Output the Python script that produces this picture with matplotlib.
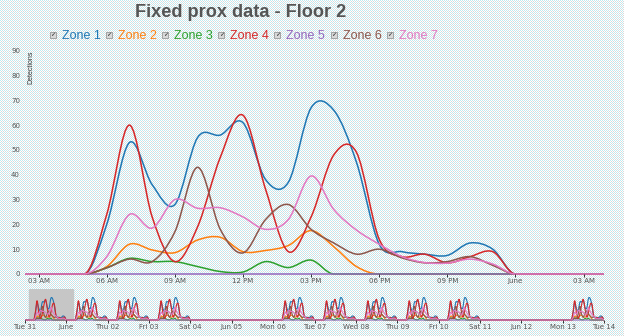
import numpy as np
import matplotlib
matplotlib.use("Agg")
import matplotlib.pyplot as plt
from matplotlib.path import Path
from matplotlib.patches import PathPatch, Rectangle

# hourly detections for one working day (hour 0..23), same profile every working day
hours = list(range(24))
zone1 = [0, 0, 0, 0, 0, 0, 20, 53, 36, 28, 55, 56, 61, 38, 37, 67, 66, 45, 12, 9, 8, 7.5, 12.5, 10]
zone2 = [0, 0, 0, 0, 0, 0, 3, 12, 9.7, 8.6, 13.7, 14.8, 9, 9.5, 11.5, 17.5, 11, 3, 0, 0, 0, 0, 0, 0]
zone3 = [0, 0, 0, 0, 0, 0, 2.5, 6.3, 5, 5, 3, 1, 0.8, 5, 2.6, 5.6, 0, 0, 0, 0, 0, 0, 0, 0]
zone4 = [0, 0, 0, 0, 0, 0, 24, 60, 23, 5, 19, 47, 64, 34, 9, 23, 48, 49, 14, 7, 8, 4.5, 7, 9]
zone5 = [0] * 24
zone6 = [0, 0, 0, 0, 0, 0, 2.5, 6, 5, 17, 43, 18, 8.5, 22, 28, 18, 12.5, 8, 10, 6.5, 4.5, 5, 7, 3.5]
zone7 = [0, 0, 0, 0, 0, 0, 7, 24, 18.5, 30, 26.5, 26.7, 23, 18, 22, 39.5, 26, 17.7, 12, 7, 4.6, 4.4, 6, 4]

zone_names = ["Zone 1", "Zone 2", "Zone 3", "Zone 4", "Zone 5", "Zone 6", "Zone 7"]
zone_colors = ["#1f77b4", "#ff7f0e", "#2ca02c", "#d62728", "#9467bd", "#8c564b", "#e377c2"]

# days since Tue 31 May that have data
n_days = 14
active_days = [0, 1, 2, 3, 6, 7, 8, 9, 10, 13]

# brush window (hours since Tue 31 00:00)
brush = (2.4, 27.9)

main_ticks = [3, 6, 9, 12, 15, 18, 21, 24, 27]
main_labels = ["03 AM", "06 AM", "09 AM", "12 PM", "03 PM", "06 PM", "09 PM", "June", "03 AM"]
day_labels = ["Tue 31", "June", "Thu 02", "Fri 03", "Sat 04", "Jun 05", "Mon 06",
              "Tue 07", "Wed 08", "Thu 09", "Fri 10", "Sat 11", "Jun 12", "Mon 13", "Tue 14"]


def build_series(profile):
    t, v = [], []
    for d in range(n_days):
        for h in hours:
            t.append(d * 24 + h)
            v.append(profile[h] if d in active_days else 0)
    t.append(n_days * 24)
    v.append(0)
    return np.array(t, float), np.array(v, float)


def cardinal_path(x, y):
    # catmull-rom through the points, flat where the value is zero
    n = len(x)
    t = np.zeros(n)
    for i in range(1, n - 1):
        if y[i] != 0:
            t[i] = (y[i + 1] - y[i - 1]) / (x[i + 1] - x[i - 1])
    verts = [(x[0], y[0])]
    codes = [Path.MOVETO]
    for i in range(n - 1):
        dx = (x[i + 1] - x[i]) / 3
        verts += [(x[i] + dx, y[i] + t[i] * dx), (x[i + 1] - dx, y[i + 1] - t[i + 1] * dx), (x[i + 1], y[i + 1])]
        codes += [Path.CURVE4] * 3
    return Path(verts, codes)


W, H = 624, 336
fig = plt.figure(figsize=(W / 100, H / 100), dpi=100)
fig.patch.set_facecolor("white")

# dotted page background
bg = np.ones((H, W, 3))
yy, xx = np.mgrid[0:H, 0:W]
bg[(xx % 2 == 0) & (yy % 2 == 0)] = np.array([190, 234, 240]) / 255
bg[(xx % 2 == 1) & (yy % 2 == 1)] = np.array([218, 218, 218]) / 255
fig.figimage(bg, xo=0, yo=0, zorder=-10)

txt_col = "#555555"
font = ["Liberation Sans", "DejaVu Sans"]

# main chart
ppu = 223.3 / 90
ax = fig.add_axes([25 / W, (62 - 2 * ppu) / H, 579 / W, (223.3 + 2 * ppu) / H])
ax.set_facecolor("none")
ax.set_xlim(*brush)
ax.set_ylim(-2, 90)

series = [build_series(z) for z in [zone1, zone2, zone3, zone4, zone5, zone6, zone7]]
for (t, v), c in zip(series, zone_colors):
    ax.add_patch(PathPatch(cardinal_path(t, v), fill=False, edgecolor=c, lw=1.1))

for sp in ax.spines.values():
    sp.set_visible(False)
ax.spines["bottom"].set_position(("data", 0))
ax.set_xticks(main_ticks)
ax.set_xticklabels(main_labels)
ax.set_yticks(range(0, 100, 10))
ax.tick_params(axis="x", length=2.2, width=0.7, color="#333333", labelsize=5, labelcolor=txt_col, pad=1)
ax.tick_params(axis="y", length=0, labelsize=5, labelcolor=txt_col, pad=3.6)

fig.text(31 / W, 1 - 67 / H, "Detections", rotation=90, ha="center", va="center",
         fontsize=5, color="#333333", family=font)

# overview chart
ax2 = fig.add_axes([25 / W, 15 / H, 579 / W, 32 / H])
ax2.set_facecolor("none")
ax2.set_xlim(0, n_days * 24)
ax2.set_ylim(-3, 96)
ax2.axvspan(*brush, ymin=3 / 99, ymax=1, color="#c6c6c6", zorder=0)
for (t, v), c in zip(series, zone_colors):
    ax2.add_patch(PathPatch(cardinal_path(t, v), fill=False, edgecolor=c, lw=0.8))
for sp in ax2.spines.values():
    sp.set_visible(False)
ax2.spines["bottom"].set_position(("data", 0))
ax2.set_xticks([d * 24 for d in range(n_days + 1)])
ax2.set_xticklabels(day_labels)
ax2.set_yticks([])
ax2.tick_params(axis="x", length=2.2, width=0.7, color="#333333", labelsize=5, labelcolor=txt_col, pad=1)

# title
fig.text(135 / W, 1 - 17 / H, "Fixed prox data - Floor 2", ha="left", va="baseline",
         fontsize=13.1, fontweight="bold", color=txt_col, family=font)

# legend with checkboxes
for i, (name, c) in enumerate(zip(zone_names, zone_colors)):
    bx = 50 + i * 56.1
    fig.add_artist(Rectangle((bx / W, 1 - 38 / H), 6 / W, 6 / H, transform=fig.transFigure,
                             facecolor="#d8d8d8", edgecolor="#8a8a8a", lw=0.5))
    fig.text((bx + 3) / W, 1 - 35 / H, "\u2713", ha="center", va="center", fontsize=4.5,
             color="#222222", family=["DejaVu Sans"])
    fig.text((bx + 12) / W, 1 - 39 / H, name, ha="left", va="baseline", fontsize=9,
             color=c, family=font)

fig.savefig("out.png", dpi=100)
